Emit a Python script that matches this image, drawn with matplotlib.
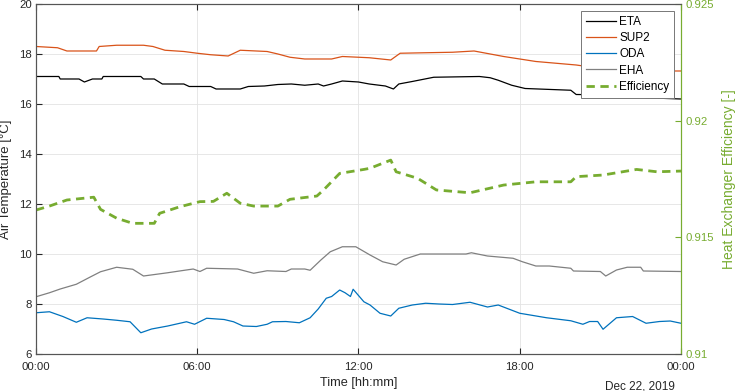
import matplotlib
matplotlib.use("Agg")
import matplotlib.pyplot as plt

plt.rcParams["font.family"] = ["Liberation Sans", "DejaVu Sans"]

# time in hours since Dec 21, 2019 00:00
eta_t = [0, 0.85, 0.9, 1.6, 1.8, 2.1, 2.45, 2.5, 3.9, 4.0, 4.4, 4.7, 5.5, 5.7, 6.5, 6.7, 7.6, 7.9, 8.5,
         9.0, 9.5, 10.0, 10.5, 10.7, 11.0, 11.4, 12.0, 12.4, 13.0, 13.3, 13.5, 14.0, 14.8, 16.5, 16.9,
         17.2, 17.7, 18.2, 19.9, 20.1, 21.5, 22.5, 22.7, 24]
eta_v = [17.1, 17.1, 17.0, 17.0, 16.88, 17.0, 17.0, 17.1, 17.1, 17.0, 17.0, 16.8, 16.8, 16.7, 16.7, 16.6,
         16.6, 16.7, 16.72, 16.78, 16.8, 16.75, 16.8, 16.72, 16.8, 16.92, 16.88, 16.8, 16.72, 16.6, 16.8,
         16.9, 17.07, 17.1, 17.05, 16.95, 16.75, 16.62, 16.55, 16.38, 16.36, 16.36, 16.25, 16.2]

sup_t = [0, 0.8, 1.15, 2.25, 2.35, 3.0, 4.0, 4.35, 4.8, 5.5, 6.0, 6.5, 7.15, 7.6, 8.6, 9.0, 9.45, 10.0,
         11.0, 11.4, 12.4, 13.2, 13.55, 14.5, 15.5, 16.3, 17.4, 18.6, 20.1, 20.5, 21.5, 22.0, 24]
sup_v = [18.3, 18.25, 18.12, 18.12, 18.3, 18.35, 18.35, 18.3, 18.15, 18.1, 18.03, 17.97, 17.92, 18.15,
         18.1, 18.0, 17.87, 17.8, 17.8, 17.9, 17.85, 17.76, 18.03, 18.05, 18.07, 18.12, 17.9, 17.7, 17.56,
         17.5, 17.4, 17.32, 17.32]

oda_t = [0, 0.5, 1.0, 1.5, 1.9, 2.5, 3.0, 3.5, 3.9, 4.3, 4.9, 5.6, 5.9, 6.35, 7.0, 7.35, 7.7, 8.2, 8.6,
         8.8, 9.3, 9.8, 10.2, 10.5, 10.8, 11.0, 11.3, 11.5, 11.7, 11.8, 12.2, 12.43, 12.8, 13.2, 13.5,
         14.0, 14.5, 15.0, 15.5, 16.15, 16.8, 17.2, 18.0, 19.0, 19.9, 20.35, 20.6, 20.9, 21.1, 21.6,
         22.2, 22.7, 23.2, 23.6, 24]
oda_v = [7.65, 7.69, 7.5, 7.27, 7.45, 7.4, 7.35, 7.29, 6.85, 7.0, 7.12, 7.29, 7.19, 7.43, 7.38, 7.29,
         7.12, 7.1, 7.19, 7.29, 7.3, 7.25, 7.45, 7.8, 8.23, 8.3, 8.56, 8.45, 8.3, 8.59, 8.09, 7.96, 7.63,
         7.52, 7.83, 7.96, 8.03, 8.0, 7.98, 8.07, 7.88, 7.96, 7.63, 7.45, 7.33, 7.19, 7.3, 7.3, 6.99,
         7.45, 7.5, 7.23, 7.3, 7.32, 7.23]

eha_t = [0, 0.5, 0.9, 1.5, 2.0, 2.4, 3.0, 3.6, 4.0, 4.9, 5.4, 5.85, 6.1, 6.35, 7.5, 8.1, 8.6, 9.3, 9.5,
         10.0, 10.2, 10.6, 10.95, 11.4, 11.9, 12.43, 12.9, 13.4, 13.7, 14.3, 16.0, 16.2, 16.8, 17.75,
         18.1, 18.6, 19.1, 19.9, 20.0, 21.0, 21.2, 21.6, 22.0, 22.5, 22.6, 24]
eha_v = [8.29, 8.45, 8.6, 8.79, 9.07, 9.29, 9.47, 9.39, 9.12, 9.25, 9.33, 9.4, 9.3, 9.43, 9.4, 9.23,
         9.33, 9.3, 9.4, 9.4, 9.35, 9.76, 10.09, 10.29, 10.29, 9.96, 9.69, 9.56, 9.79, 10.0, 10.0, 10.05,
         9.92, 9.83, 9.69, 9.52, 9.52, 9.43, 9.32, 9.3, 9.12, 9.36, 9.47, 9.47, 9.32, 9.3]

eff_t = [0, 0.5, 1.15, 2.15, 2.4, 3.0, 3.6, 4.4, 4.6, 5.35, 6.1, 6.6, 7.1, 7.6, 8.1, 9.0, 9.45, 10.45,
         10.7, 11.3, 12.2, 12.43, 13.2, 13.4, 14.2, 14.9, 16.15, 17.4, 18.6, 19.9, 20.1, 21.1, 22.35,
         23.1, 24]
eff_v = [0.91617, 0.91634, 0.9166, 0.91672, 0.9162, 0.91582, 0.9156, 0.9156, 0.91603, 0.91631, 0.91653,
         0.91654, 0.91689, 0.91646, 0.91634, 0.91634, 0.91663, 0.91677, 0.91703, 0.91774, 0.91791,
         0.91796, 0.91831, 0.91781, 0.91753, 0.91703, 0.91691, 0.91724, 0.91738, 0.91738, 0.9176,
         0.91767, 0.91791, 0.91781, 0.91784]

x_ticks = [0, 6, 12, 18, 24]
x_labels = ["00:00", "06:00", "12:00", "18:00", "00:00"]

green = "#77AC30"
axis_col = "#262626"

fig = plt.figure(figsize=(7.35, 3.91), dpi=100)
ax = fig.add_axes([0.049, 0.0946, 0.8775, 0.8952])
ax2 = ax.twinx()

l1, = ax.plot(eta_t, eta_v, color="black", lw=0.9, label="ETA")
l2, = ax.plot(sup_t, sup_v, color="#D95319", lw=0.9, label="SUP2")
l3, = ax.plot(oda_t, oda_v, color="#0072BD", lw=0.9, label="ODA")
l4, = ax.plot(eha_t, eha_v, color="#808080", lw=0.9, label="EHA")
l5, = ax2.plot(eff_t, eff_v, color=green, lw=2, dashes=(3, 2), label="Efficiency")

ax.set_xlim(0, 24)
ax.set_ylim(6, 20)
ax.set_yticks(range(6, 21, 2))
ax.set_xticks(x_ticks)
ax.set_xticklabels(x_labels)
ax.grid(True, color="#e3e3e3", lw=0.6)
ax.set_axisbelow(True)
ax.tick_params(direction="in", length=4, labelsize=8.2, colors=axis_col, top=True)
ax.tick_params(axis="x", pad=5.5)
ax.tick_params(axis="y", pad=3)
ax.set_xlabel("Time [hh:mm]", fontsize=9.2, color=axis_col, labelpad=4)
ax.set_ylabel("Air Temperature [°C]", fontsize=9.5, color=axis_col)
ax.yaxis.set_label_coords(-0.037, 0.5)
ax.text(0.99, -0.075, "Dec 22, 2019", transform=ax.transAxes, ha="right", va="top",
        fontsize=8.5, color=axis_col)

ax2.set_ylim(0.91, 0.925)
ax2.set_yticks([0.91, 0.915, 0.92, 0.925])
ax2.set_yticklabels(["0.91", "0.915", "0.92", "0.925"])
ax2.tick_params(direction="in", length=4, labelsize=8.2, colors=green, pad=3)
ax2.set_ylabel("Heat Exchanger Efficiency [-]", fontsize=10, color=green)
ax2.yaxis.set_label_coords(1.0636, 0.5)

for a in (ax, ax2):
    for s in ("left", "bottom", "top"):
        a.spines[s].set_color("#555555")
        a.spines[s].set_linewidth(0.8)
    a.spines["right"].set_color(green)
    a.spines["right"].set_linewidth(0.8)

leg = ax2.legend(handles=[l1, l2, l3, l4, l5], loc="upper right", fontsize=8.5,
                 frameon=True, fancybox=False, framealpha=1, edgecolor="#777777",
                 handlelength=2.55, handletextpad=0.25, borderpad=0.4, labelspacing=0.36,
                 borderaxespad=0.6)
leg.get_frame().set_linewidth(0.7)

fig.savefig("out.png", dpi=100)
